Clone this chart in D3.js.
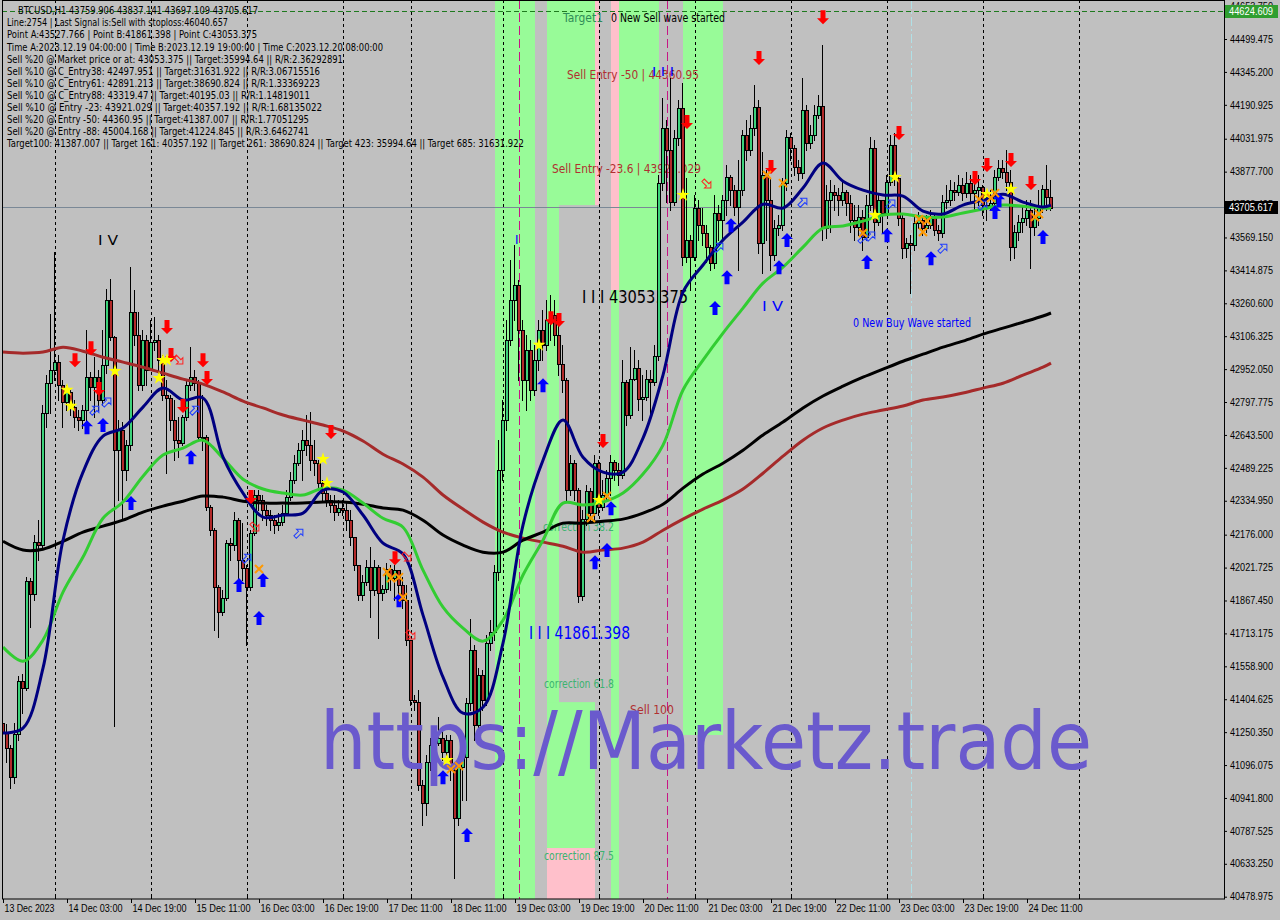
<!DOCTYPE html>
<html>
<head>
<meta charset="utf-8">
<title>BTCUSD H1</title>
<script src="https://cdn.jsdelivr.net/npm/d3@7/dist/d3.min.js"></script>
<style>
html,body{margin:0;padding:0;background:#c0c0c0;}
svg{display:block;font-family:"DejaVu Sans",Verdana,sans-serif;}
</style>
</head>
<body>
<svg id="chart" width="1280" height="920"></svg>
<script>
// ---------------- DATA ----------------
const openP = [
41293,41246,41175,41039,41241,41489,41456,41958,41897,42141,
42127,42746,42886,42947,42985,42877,42798,42845,42774,42727,
42713,42760,42914,42867,42914,42807,42971,43276,43102,42572,
42666,42478,42596,43220,43112,42877,43088,42947,43079,43088,
42994,42831,42816,42713,42619,42605,42727,42877,42914,42886,
42633,42633,42305,42197,41930,41813,41878,42136,42127,42244,
42057,42019,41930,42183,42362,42338,42291,42268,42244,42221,
42235,42277,42352,42432,42511,42572,42619,42596,42525,42511,
42418,42371,42338,42315,42282,42301,42291,42244,42164,42034,
41893,41954,42024,41916,42024,41902,41921,42015,41972,42010,
41940,41869,41682,41400,41391,41002,40918,41110,41190,41199,
41222,41157,41213,41072,40847,41086,41133,41386,41635,41283,
41518,41400,41668,41719,42001,42478,42713,43088,43276,43346,
43135,42900,43041,42854,42994,43135,43065,43182,43206,43112,
42975,42900,42385,42511,42385,41888,42249,42380,42277,42511,
42305,42362,42441,42516,42478,42455,42891,42737,42905,42957,
42812,42821,42905,42891,43013,43824,44082,43979,43735,44035,
44176,43477,43557,43477,43707,43627,43590,43524,43449,43684,
43651,43744,43852,43791,43712,43791,44049,43979,44082,44180,
43543,43862,43744,43487,43613,43627,43824,44040,43988,43899,
43871,44166,44012,44049,44143,44185,43613,43744,43782,43768,
43744,43782,43730,43651,43618,43665,43571,43721,43988,43641,
43744,43684,43829,44002,43848,43660,43519,43543,43533,43637,
43651,43613,43627,43660,43604,43590,43735,43744,43791,43782,
43815,43777,43824,43777,43791,43805,43721,43707,43730,43852,
43895,43876,43829,43524,43595,43641,43660,43698,43618,43660,
43712,43796,43759.906];
const highP = [
41311,41288,41190,41293,41513,41522,41977,41972,42174,42244,
42784,42924,43210,43501,43018,42900,42877,42854,42807,42760,
42784,43135,42938,43008,42947,43135,43327,43374,43107,42713,
42704,42619,43430,43322,43220,43135,43112,43182,43196,43112,
43018,42900,42831,42807,42727,42737,42900,43055,42947,42900,
42831,42643,42315,42206,41940,41916,42150,42160,42282,42254,
42230,42034,42197,42385,42385,42362,42315,42291,42268,42277,
42315,42385,42469,42549,42605,42666,42737,42751,42619,42525,
42432,42385,42362,42362,42338,42338,42324,42291,42164,42034,
41987,42057,42118,42057,42034,41940,42043,42034,42034,42010,
41977,41940,41682,41424,41447,41025,41143,41222,41236,41321,
41260,41236,41236,41096,41110,41166,41410,41780,41658,41550,
41541,41705,41775,42034,42619,42807,43182,43463,43533,43369,
43182,43112,43088,43065,43182,43229,43276,43299,43276,43182,
43065,42910,42549,42525,42394,42291,42408,42394,42549,42525,
42432,42478,42549,42525,42511,42994,42900,43055,43041,42994,
42924,42947,42947,43065,43862,44222,44119,44316,44073,44213,
44293,43848,43580,43768,43744,43707,43627,43533,43768,43721,
43768,43909,43862,43815,43932,44073,44119,44143,44284,44213,
43970,43885,43848,43651,43674,43848,44073,44059,44002,43932,
44316,44190,44096,44190,44236,44471,43815,43838,43815,43801,
43838,43791,43768,43721,43721,43698,43768,44040,44026,43768,
43744,43862,44049,44059,43862,43674,43566,43580,43674,43688,
43674,43674,43698,43684,43627,43768,43815,43838,43829,43862,
43848,43876,43862,43838,43862,43815,43768,43791,43885,43932,
43932,43979,43885,43627,43674,43721,43744,43744,43721,43791,
43815,43909,43837.141];
const lowP = [
41105,41110,40988,41011,41213,41339,41447,41742,41869,42057,
42112,42680,42746,42900,42807,42680,42760,42737,42680,42666,
42676,42666,42807,42727,42760,42784,42933,43088,41279,42338,
42244,42432,42572,43065,42854,42854,42877,42947,43041,42924,
42807,42464,42666,42525,42539,42596,42713,42854,42854,42619,
42572,42291,42174,41729,41696,41798,41869,42057,42104,41963,
41963,41658,41916,42174,42291,42244,42221,42197,42183,42197,
42221,42268,42338,42418,42502,42432,42549,42478,42455,42385,
42338,42310,42282,42244,42268,42268,42197,42127,42010,41869,
41869,41940,41789,41893,41691,41869,41907,41916,41869,41869,
41832,41658,41377,41353,40978,40815,40862,41072,41096,41190,
41119,41119,41025,40566,40815,40932,40932,41353,41213,41236,
41353,41377,41635,41682,41963,42432,42666,43065,43182,42900,
42807,42760,42807,42831,42947,42994,43041,43088,43065,42924,
42845,42338,42362,42338,41860,41869,42221,42244,42244,42268,
42291,42338,42362,42432,42408,42441,42690,42723,42900,42760,
42713,42807,42713,42877,42994,43791,43735,43698,43721,44002,
43440,43454,43322,43463,43557,43533,43454,43416,43426,43557,
43557,43674,43721,43674,43416,43768,43932,43956,44049,43496,
43402,43557,43416,43463,43580,43604,43791,43932,43862,43838,
43848,43979,43988,44026,44129,43557,43566,43595,43698,43674,
43721,43674,43595,43557,43580,43510,43557,43698,43580,43627,
43595,43674,43815,43815,43627,43472,43477,43308,43510,43613,
43580,43595,43613,43580,43557,43571,43707,43721,43744,43768,
43744,43758,43730,43698,43721,43674,43651,43698,43721,43838,
43848,43791,43463,43472,43557,43595,43627,43426,43580,43627,
43688,43698,43697.109];
const closeP = [
41246,41175,41039,41241,41489,41456,41958,41897,42141,42127,
42746,42886,42947,42985,42877,42798,42845,42774,42727,42713,
42760,42914,42867,42914,42807,42971,43276,43102,42572,42666,
42478,42596,43220,43112,42877,43088,42947,43079,43088,42994,
42831,42816,42713,42619,42605,42727,42877,42914,42886,42633,
42633,42305,42197,41930,41813,41878,42136,42127,42244,42057,
42019,41930,42183,42362,42338,42291,42268,42244,42221,42235,
42277,42352,42432,42511,42572,42619,42596,42525,42511,42418,
42371,42338,42315,42282,42301,42291,42244,42164,42034,41893,
41954,42024,41916,42024,41902,41921,42015,41972,42010,41940,
41869,41682,41400,41391,41002,40918,41110,41190,41199,41222,
41157,41213,41072,40847,41086,41133,41386,41635,41283,41518,
41400,41668,41719,42001,42478,42713,43088,43276,43346,43135,
42900,43041,42854,42994,43135,43065,43182,43206,43112,42975,
42900,42385,42511,42385,41888,42249,42380,42277,42511,42305,
42362,42441,42516,42478,42455,42891,42737,42905,42957,42812,
42821,42905,42891,43013,43824,44082,43979,43735,44035,44176,
43477,43557,43477,43707,43627,43590,43524,43449,43684,43651,
43744,43852,43791,43712,43791,44049,43979,44082,44180,43543,
43862,43744,43487,43613,43627,43824,44040,43988,43899,43871,
44166,44012,44049,44143,44185,43613,43744,43782,43768,43744,
43782,43730,43651,43618,43665,43571,43721,43988,43641,43744,
43684,43829,44002,43848,43660,43519,43543,43533,43637,43651,
43613,43627,43660,43604,43590,43735,43744,43791,43782,43815,
43777,43824,43777,43791,43805,43721,43707,43730,43852,43895,
43876,43829,43524,43595,43641,43660,43698,43618,43660,43712,
43796,43760,43705.617];

// moving averages, read at these bar indices
const maIdx = [0,5,10,15,20,25,30,35,40,45,50,55,60,65,70,75,80,85,90,95,100,105,110,115,120,125,130,135,140,145,150,155,160,165,170,175,180,185,190,195,200,205,210,215,220,225,230,235,240,245,250,255,260,262];
const maNavy = [41246,41269,41550,42150,42469,42638,42676,42774,42863,42807,42817,42539,42371,42258,42268,42277,42385,42376,42268,42136,42085,41799,41508,41339,41367,41668,42221,42525,42713,42539,42469,42469,42629,42924,43313,43440,43557,43641,43725,43707,43801,43918,43833,43791,43768,43763,43693,43679,43721,43744,43772,43735,43712,43721];
const maGreen = [41649,41583,41682,41907,42071,42253,42329,42450,42549,42582,42619,42534,42436,42390,42371,42362,42394,42385,42324,42253,42211,42010,41836,41738,41677,41775,41987,42150,42324,42315,42329,42371,42460,42596,42854,42994,43121,43238,43355,43430,43524,43613,43623,43646,43674,43679,43665,43665,43684,43702,43721,43716,43707,43707];
const maBlack = [42145,42104,42108,42145,42188,42216,42244,42282,42310,42333,42357,42352,42333,42324,42324,42324,42329,42329,42319,42301,42291,42244,42174,42127,42094,42094,42150,42188,42230,42230,42239,42249,42277,42319,42394,42460,42511,42572,42643,42704,42770,42826,42872,42914,42952,42989,43022,43055,43083,43116,43144,43172,43201,43215];
const maBrown = [43032,43027,43032,43055,43036,43008,42985,42961,42933,42905,42882,42845,42802,42770,42737,42713,42690,42662,42615,42553,42507,42446,42362,42296,42235,42188,42160,42141,42122,42094,42104,42113,42141,42197,42249,42296,42338,42390,42464,42544,42619,42676,42713,42741,42760,42779,42807,42821,42840,42863,42886,42924,42961,42980];

// x axis labels (every 16 bars) and day separators
const timeLabels = ["13 Dec 2023","14 Dec 03:00","14 Dec 19:00","15 Dec 11:00","16 Dec 03:00","16 Dec 19:00","17 Dec 11:00","18 Dec 11:00","19 Dec 03:00","19 Dec 19:00","20 Dec 11:00","21 Dec 03:00","21 Dec 19:00","22 Dec 11:00","23 Dec 03:00","23 Dec 19:00","24 Dec 11:00"];
const timeLabelIdx = [0,16,32,48,64,80,96,112,128,144,160,176,192,208,224,240,256];
const dayIdx = [13,37,61,85,102,125,149,173,197,221,245,269];
const priceTicks = [44653.750,44499.475,44345.200,44190.925,44031.975,43877.700,43723.425,43569.150,43414.875,43260.600,43106.325,42952.050,42797.775,42643.500,42489.225,42334.950,42176.000,42021.725,41867.450,41713.175,41558.900,41404.625,41250.350,41096.075,40941.800,40787.525,40633.250,40478.975];

// zones (bar index from/to, price hi/lo, kind)
const bandFrom = [123,136,139,136,136,148,152,152,154,170];
const bandTo   = [133,139,148,148,148,149,154,154,164,180];
const bandHi   = [44800,44800,44800,41391,40707,44800,44800,43322,44800,44800];
const bandLo   = [40300,40707,43721,40707,40300,43721,43322,40300,43322,41237];
const bandKind = ["g","g","g","g","p","p","p","g","g","g"];

const timeLineIdx = [129,166];
const cyanLineIdx = [227];
const levelTop = 44624.609;
const lastPrice = 43705.617;

// signals
const blueUpIdx = [21,25,32,47,59,64,65,99,110,116,135,148,151,152,178,181,182,194,196,216,221,232,248,249,260];
const blueUpPx  = [42680,42690,42324,42539,41940,41785,41963,41869,41039,40768,42877,42047,42104,42300,43238,43383,43627,43430,43557,43454,43580,43472,43688,43744,43571];
const redDownIdx = [18,22,24,41,42,45,50,51,62,82,98,137,139,150,171,189,192,205,224,243,246,252,257];
const redDownPx  = [42994,43050,42859,43149,43018,42779,42994,42910,42352,42657,42066,43191,43182,42615,44110,44410,43899,44602,44059,43848,43909,43932,43824];
const starIdx = [16,17,28,39,40,41,80,81,111,134,149,170,218,223,246,252];
const starPx  = [42854,42779,42943,42910,42994,42994,42530,42418,41119,43065,42338,43768,43674,43852,43772,43796];
const crossIdx = [64,96,97,99,100,112,114,147,151,191,195,215,229,230,231,244,247,248,258,259];
const crossPx  = [42015,42001,41972,41977,41883,41077,41091,42254,42357,43862,43824,43590,43655,43595,43646,43749,43754,43777,43665,43679];
const hollowUpIdx = [23,26,48,61,74,179,200,215,217,222,235,245];
const hollowUpPx  = [42760,42798,42760,42066,42183,43524,43735,43566,43576,43726,43519,43721];
const hollowDownIdx = [44,63,101,102,176];
const hollowDownPx  = [42994,42211,42071,41705,43819];

// chart text objects
const noteText = ["Target1","0 New Sell wave started","Sell Entry -50 | 44360.95","Sell Entry -23.6 | 43921.029","I I I 43053.375","I I I 41861.398","I V","I V","0 New Buy Wave started","correction 38.2","correction 61.8","correction 87.5","Sell 100","I","I I I"];
const noteIdx  = [140,152,141,137.25,144.75,131.5,23.75,189.75,212.5,135,135.25,135.25,156.75,128,162.25];
const notePx   = [44598,44598,44335,43894,43290,41715,43557,43248,43168,42212,41475,40669,41358,43557,44344];
const noteKind = ["target","black","sell","sell","blackBig","blueBig","blackMid","blueMid","blue","corr","corr","corr","sell","blue","blue"];

const infoLines = [
 "BTCUSD,H1  43759.906 43837.141 43697.109 43705.617",
 "Line:2754 | Last Signal is:Sell with stoploss:46040.657",
 "Point A:43527.766 | Point B:41861.398 | Point C:43053.375",
 "Time A:2023.12.19 04:00:00 | Time B:2023.12.19 19:00:00 | Time C:2023.12.20 08:00:00",
 "Sell %20 @ Market price or at: 43053.375 || Target:35994.64 || R/R:2.36292891",
 "Sell %10 @ C_Entry38: 42497.951 || Target:31631.922 || R/R:3.06715516",
 "Sell %10 @ C_Entry61: 42891.213 || Target:38690.824 || R/R:1.33369223",
 "Sell %10 @ C_Entry88: 43319.47 || Target:40195.03 || R/R:1.14819011",
 "Sell %10 @ Entry -23: 43921.029 || Target:40357.192 || R/R:1.68135022",
 "Sell %20 @ Entry -50: 44360.95 || Target:41387.007 || R/R:1.77051295",
 "Sell %20 @ Entry -88: 45004.168 || Target:41224.845 || R/R:3.6462741",
 "Target100: 41387.007 || Target 161: 40357.192 || Target 261: 38690.824 || Target 423: 35994.64 || Target 685: 31631.922"
];
const watermark = "https://Marketz.trade";

// ---------------- LAYOUT ----------------
const infoWidth = [240,221,250,376,336,313,313,303,315,302,302,517];
const noteStyle = {
  target:{fill:"#2e8b57",size:12},
  black:{fill:"#000",size:12},
  sell:{fill:"#b03030",size:12.5},
  blackBig:{fill:"#000",size:17},
  blueBig:{fill:"#0000ff",size:17},
  blackMid:{fill:"#000",size:14},
  blueMid:{fill:"#0000ff",size:14},
  blue:{fill:"#0000ff",size:12},
  corr:{fill:"#3cb371",size:11.5}
};
const noteWidth = [40,114,132,149,106,101,20,21,118,71,70,70,44,null,22];
const axisFont = "Liberation Sans, Arial, sans-serif";

const svg = d3.select("#chart");
const PL = 2, PR = 1224, PT = 0, PB = 899;
const x = d3.scaleLinear().domain([0,305]).range([3,1223]);
const y = d3.scaleLinear().domain([40478.975,44499.475]).range([896.7,39]);
const cx = i => Math.round(x(i));

svg.append("rect").attr("width",1280).attr("height",920).attr("fill","#c0c0c0");
svg.append("defs").append("clipPath").attr("id","plot")
  .append("rect").attr("x",PL).attr("y",PT).attr("width",PR-PL).attr("height",PB-PT);
const g = svg.append("g").attr("clip-path","url(#plot)");

// zones
const bandColor = {g:"#98fb98", p:"#ffc0cb"};
g.append("g").selectAll("rect").data(d3.range(bandFrom.length)).join("rect")
  .attr("x",k=>x(bandFrom[k])).attr("width",k=>x(bandTo[k])-x(bandFrom[k]))
  .attr("y",k=>y(bandHi[k])).attr("height",k=>y(bandLo[k])-y(bandHi[k]))
  .attr("fill",k=>bandColor[bandKind[k]]);

// day grid
g.append("g").selectAll("line").data(dayIdx).join("line")
  .attr("x1",d=>cx(d)+0.5).attr("x2",d=>cx(d)+0.5).attr("y1",PT).attr("y2",PB)
  .attr("stroke","#000").attr("stroke-width",1).attr("stroke-dasharray","3,3");
// vertical time lines
g.append("g").selectAll("line").data(timeLineIdx).join("line")
  .attr("x1",d=>cx(d)+0.5).attr("x2",d=>cx(d)+0.5).attr("y1",PT).attr("y2",PB)
  .attr("stroke","#c71585").attr("stroke-width",1).attr("stroke-dasharray","9,4");
g.append("g").selectAll("line").data(cyanLineIdx).join("line")
  .attr("x1",d=>cx(d)+0.5).attr("x2",d=>cx(d)+0.5).attr("y1",PT).attr("y2",PB)
  .attr("stroke","#b0e0e6").attr("stroke-width",1).attr("stroke-dasharray","9,3,2,3");
// horizontal levels
g.append("line").attr("x1",PL).attr("x2",PR)
  .attr("y1",Math.round(y(levelTop))-0.5).attr("y2",Math.round(y(levelTop))-0.5)
  .attr("stroke","#1f7a1f").attr("stroke-dasharray","5,3");
g.append("line").attr("x1",PL).attr("x2",PR)
  .attr("y1",Math.round(y(lastPrice))-0.5).attr("y2",Math.round(y(lastPrice))-0.5)
  .attr("stroke","#7a8896");

// text objects (behind candles)
const notes = g.append("g");
noteText.forEach((t,k)=>{
  const st = noteStyle[noteKind[k]];
  const el = notes.append("text").attr("x",x(noteIdx[k])).attr("y",y(notePx[k]))
    .attr("dominant-baseline","central").attr("font-size",st.size).attr("fill",st.fill).text(t);
  if(noteWidth[k]) el.attr("textLength",noteWidth[k]).attr("lengthAdjust","spacingAndGlyphs");
});

// candles
const idx = d3.range(closeP.length);
const cg = g.append("g");
cg.selectAll("line").data(idx).join("line")
  .attr("x1",i=>cx(i)-0.5).attr("x2",i=>cx(i)-0.5)
  .attr("y1",i=>Math.round(y(highP[i]))).attr("y2",i=>Math.round(y(lowP[i]))+1)
  .attr("stroke","#000").attr("stroke-width",1);
cg.selectAll("rect").data(idx).join("rect")
  .attr("x",i=>cx(i)-1.5).attr("width",3)
  .attr("y",i=>Math.round(y(Math.max(openP[i],closeP[i])))+0.5)
  .attr("height",i=>Math.max(1,Math.round(y(Math.min(openP[i],closeP[i])))-Math.round(y(Math.max(openP[i],closeP[i])))))
  .attr("fill",i=>closeP[i]>=openP[i]?"#3cd27a":"#b22a2a")
  .attr("stroke","#000").attr("stroke-width",1);

// moving averages
const maLine = d3.line().x((d,k)=>x(maIdx[k])).y(d=>y(d)).curve(d3.curveCatmullRom);
[[maBrown,"#a52a2a"],[maBlack,"#000000"],[maGreen,"#32cd32"],[maNavy,"#000080"]].forEach(([arr,col])=>{
  g.append("path").attr("d",maLine(arr)).attr("fill","none").attr("stroke",col)
   .attr("stroke-width",3).attr("stroke-linejoin","round");
});

// watermark
g.append("text").attr("x",320).attr("y",769).attr("font-size",80)
  .attr("fill","#6a5acd").attr("textLength",772).attr("lengthAdjust","spacingAndGlyphs")
  .text(watermark);

// signals
const arrowPath = "M0,-7L6,-1L2.5,-1L2.5,7L-2.5,7L-2.5,-1L-6,-1Z";
const hollowPath = "M0,-5.5L4.5,-1L1.7,-1L1.7,5.5L-1.7,5.5L-1.7,-1L-4.5,-1Z";
const sg = g.append("g");
sg.selectAll("path.bu").data(d3.range(blueUpIdx.length)).join("path").attr("class","bu")
  .attr("d",arrowPath).attr("fill","#0000ff")
  .attr("transform",k=>`translate(${x(blueUpIdx[k])},${y(blueUpPx[k])})`);
sg.selectAll("path.rd").data(d3.range(redDownIdx.length)).join("path").attr("class","rd")
  .attr("d",arrowPath).attr("fill","#ff0000")
  .attr("transform",k=>`translate(${x(redDownIdx[k])},${y(redDownPx[k])}) rotate(180)`);
sg.selectAll("path.hu").data(d3.range(hollowUpIdx.length)).join("path").attr("class","hu")
  .attr("d",hollowPath).attr("fill","none").attr("stroke","#1e3cff").attr("stroke-width",1)
  .attr("transform",k=>`translate(${x(hollowUpIdx[k])},${y(hollowUpPx[k])}) rotate(45)`);
sg.selectAll("path.hd").data(d3.range(hollowDownIdx.length)).join("path").attr("class","hd")
  .attr("d",hollowPath).attr("fill","none").attr("stroke","#ff2020").attr("stroke-width",1)
  .attr("transform",k=>`translate(${x(hollowDownIdx[k])},${y(hollowDownPx[k])}) rotate(135)`);
const star = d3.symbol(d3.symbolStar, 55)();
sg.selectAll("path.st").data(d3.range(starIdx.length)).join("path").attr("class","st")
  .attr("d",star).attr("fill","#ffff00")
  .attr("transform",k=>`translate(${x(starIdx[k])},${y(starPx[k])})`);
sg.selectAll("path.cr").data(d3.range(crossIdx.length)).join("path").attr("class","cr")
  .attr("d","M-4,-4L4,4M-4,4L4,-4").attr("stroke","#ff9900").attr("stroke-width",2).attr("fill","none")
  .attr("transform",k=>`translate(${x(crossIdx[k])},${y(crossPx[k])})`);

// info block
const ig = svg.append("g");
infoLines.forEach((t,k)=>{
  ig.append("text").attr("x",k===0?18:7).attr("y",10.7+12.1*k)
    .attr("dominant-baseline","central").attr("font-size",10).attr("fill","#000")
    .attr("textLength",infoWidth[k]).attr("lengthAdjust","spacingAndGlyphs").text(t);
});

// frame
svg.append("rect").attr("x",PL+0.5).attr("y",PT+0.5).attr("width",PR-PL).attr("height",PB-PT-0.5)
  .attr("fill","none").attr("stroke","#000");

// y axis (right)
const yAx = svg.append("g").attr("transform",`translate(${PR},0)`)
  .call(d3.axisRight(y).tickValues(priceTicks).tickFormat(d=>d.toFixed(3)).tickSize(3).tickPadding(3));
yAx.select(".domain").remove();
yAx.selectAll("text").attr("font-size",10).attr("font-family",axisFont)
  .attr("textLength",43).attr("lengthAdjust","spacingAndGlyphs").attr("fill","#000");
yAx.selectAll("line").attr("stroke","#000");

// price boxes
function priceBox(p,bg){
  const yy = Math.round(y(p));
  svg.append("rect").attr("x",PR+1).attr("y",yy-7).attr("width",53).attr("height",13).attr("fill",bg);
  svg.append("text").attr("x",PR+5).attr("y",yy-0.5).attr("dominant-baseline","central")
    .attr("font-size",10).attr("font-family",axisFont).attr("fill","#fff")
    .attr("textLength",44).attr("lengthAdjust","spacingAndGlyphs")
    .text(p.toFixed(3));
}
priceBox(levelTop,"#2f9e2f");
priceBox(lastPrice,"#000000");

// x axis
const xAx = svg.append("g").attr("transform",`translate(0,${PB})`)
  .call(d3.axisBottom(x).tickValues(timeLabelIdx).tickFormat((d,k)=>timeLabels[k]).tickSize(4).tickPadding(2));
xAx.select(".domain").remove();
xAx.selectAll("text").attr("text-anchor","start").attr("x",1).attr("font-size",10)
  .attr("font-family",axisFont).attr("fill","#000")
  .attr("textLength",(d,k)=>k===0?50:54).attr("lengthAdjust","spacingAndGlyphs");
xAx.selectAll("line").attr("stroke","#000");
svg.append("g").selectAll("line").data(dayIdx).join("line")
  .attr("x1",d=>cx(d)+0.5).attr("x2",d=>cx(d)+0.5).attr("y1",PB-4).attr("y2",PB)
  .attr("stroke","#000");

// integrity check
if(!(openP.length===highP.length && highP.length===lowP.length && lowP.length===closeP.length)){
  svg.append("text").attr("x",600).attr("y",460).attr("fill","red").text("LEN "+openP.length+" "+highP.length+" "+lowP.length+" "+closeP.length);
}
</script>
</body>
</html>
